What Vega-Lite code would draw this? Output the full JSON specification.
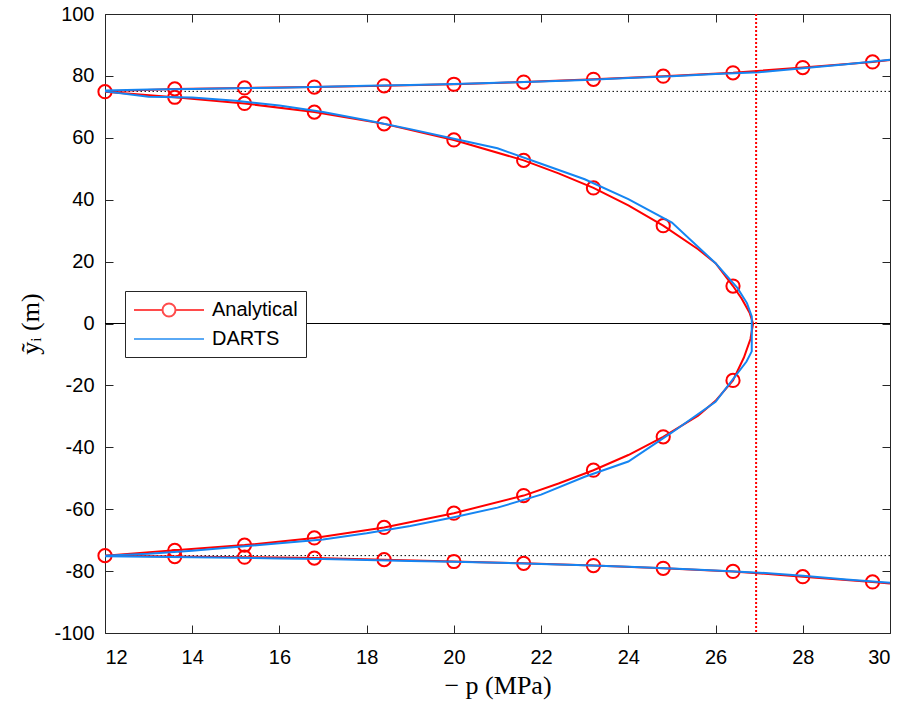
{
  "$schema": "https://vega.github.io/schema/vega-lite/v6.json",
  "width": 785,
  "height": 619,
  "autosize": "none",
  "padding": {"left": 105, "top": 14, "right": 26, "bottom": 73},
  "background": "white",
  "config": {
    "view": {"stroke": null},
    "axis": {
      "grid": false,
      "domainColor": "#262626",
      "tickColor": "#262626",
      "labelColor": "#000000",
      "labelFont": "Liberation Sans",
      "labelFontSize": 20,
      "tickSize": -8,
      "tickWidth": 1,
      "domainWidth": 1,
      "titleFont": "Liberation Serif",
      "titleFontSize": 26,
      "titleFontWeight": "normal",
      "titleColor": "#000000"
    },
    "legend": {
      "orient": "none",
      "legendX": 20,
      "legendY": 277,
      "fillColor": "white",
      "strokeColor": "#262626",
      "padding": 8,
      "labelFont": "Liberation Sans",
      "labelFontSize": 20,
      "labelColor": "#000000",
      "symbolSize": 400,
      "symbolStrokeWidth": 2,
      "labelOffset": 57,
      "rowPadding": 7
    }
  },
  "datasets": {
    "lines": [
      {"series": "Analytical", "branch": "up", "i": 1, "x": 12, "y": 75.0},
      {"series": "Analytical", "branch": "up", "i": 2, "x": 13.6, "y": 75.8},
      {"series": "Analytical", "branch": "up", "i": 3, "x": 15.2, "y": 76.1},
      {"series": "Analytical", "branch": "up", "i": 4, "x": 16.8, "y": 76.4},
      {"series": "Analytical", "branch": "up", "i": 5, "x": 18.4, "y": 76.8},
      {"series": "Analytical", "branch": "up", "i": 6, "x": 20, "y": 77.3},
      {"series": "Analytical", "branch": "up", "i": 7, "x": 21.6, "y": 78.0},
      {"series": "Analytical", "branch": "up", "i": 8, "x": 23.2, "y": 78.9},
      {"series": "Analytical", "branch": "up", "i": 9, "x": 24.8, "y": 79.9},
      {"series": "Analytical", "branch": "up", "i": 10, "x": 26.4, "y": 81.0},
      {"series": "Analytical", "branch": "up", "i": 11, "x": 28, "y": 82.7},
      {"series": "Analytical", "branch": "up", "i": 12, "x": 29.6, "y": 84.5},
      {"series": "Analytical", "branch": "up", "i": 13, "x": 30, "y": 85.1},
      {"series": "Analytical", "branch": "curve", "i": 1, "x": 12, "y": 74.9},
      {"series": "Analytical", "branch": "curve", "i": 2, "x": 13.6, "y": 73.1},
      {"series": "Analytical", "branch": "curve", "i": 3, "x": 15.2, "y": 71.1},
      {"series": "Analytical", "branch": "curve", "i": 4, "x": 16.8, "y": 68.3},
      {"series": "Analytical", "branch": "curve", "i": 5, "x": 18.4, "y": 64.5},
      {"series": "Analytical", "branch": "curve", "i": 6, "x": 20, "y": 59.3},
      {"series": "Analytical", "branch": "curve", "i": 7, "x": 21.6, "y": 52.7},
      {"series": "Analytical", "branch": "curve", "i": 8, "x": 22.4, "y": 48.5},
      {"series": "Analytical", "branch": "curve", "i": 9, "x": 23.2, "y": 43.8},
      {"series": "Analytical", "branch": "curve", "i": 10, "x": 24, "y": 38.2},
      {"series": "Analytical", "branch": "curve", "i": 11, "x": 24.8, "y": 31.6},
      {"series": "Analytical", "branch": "curve", "i": 12, "x": 25.6, "y": 24.0},
      {"series": "Analytical", "branch": "curve", "i": 13, "x": 26, "y": 19.5},
      {"series": "Analytical", "branch": "curve", "i": 14, "x": 26.4, "y": 12.1},
      {"series": "Analytical", "branch": "curve", "i": 15, "x": 26.6, "y": 8.0},
      {"series": "Analytical", "branch": "curve", "i": 16, "x": 26.78, "y": 3.5},
      {"series": "Analytical", "branch": "curve", "i": 17, "x": 26.86, "y": 0},
      {"series": "Analytical", "branch": "curve", "i": 18, "x": 26.8, "y": -5.0},
      {"series": "Analytical", "branch": "curve", "i": 19, "x": 26.65, "y": -11.0},
      {"series": "Analytical", "branch": "curve", "i": 20, "x": 26.4, "y": -18.4},
      {"series": "Analytical", "branch": "curve", "i": 21, "x": 26, "y": -25.0},
      {"series": "Analytical", "branch": "curve", "i": 22, "x": 25.6, "y": -29.8},
      {"series": "Analytical", "branch": "curve", "i": 23, "x": 24.8, "y": -36.6},
      {"series": "Analytical", "branch": "curve", "i": 24, "x": 24, "y": -42.5},
      {"series": "Analytical", "branch": "curve", "i": 25, "x": 23.2, "y": -47.4},
      {"series": "Analytical", "branch": "curve", "i": 26, "x": 22.4, "y": -51.7},
      {"series": "Analytical", "branch": "curve", "i": 27, "x": 21.6, "y": -55.6},
      {"series": "Analytical", "branch": "curve", "i": 28, "x": 20, "y": -61.3},
      {"series": "Analytical", "branch": "curve", "i": 29, "x": 18.4, "y": -65.9},
      {"series": "Analytical", "branch": "curve", "i": 30, "x": 16.8, "y": -69.3},
      {"series": "Analytical", "branch": "curve", "i": 31, "x": 15.2, "y": -71.6},
      {"series": "Analytical", "branch": "curve", "i": 32, "x": 13.6, "y": -73.3},
      {"series": "Analytical", "branch": "curve", "i": 33, "x": 12, "y": -75.0},
      {"series": "Analytical", "branch": "low", "i": 1, "x": 12, "y": -75.0},
      {"series": "Analytical", "branch": "low", "i": 2, "x": 13.6, "y": -75.3},
      {"series": "Analytical", "branch": "low", "i": 3, "x": 15.2, "y": -75.5},
      {"series": "Analytical", "branch": "low", "i": 4, "x": 16.8, "y": -75.8},
      {"series": "Analytical", "branch": "low", "i": 5, "x": 18.4, "y": -76.3},
      {"series": "Analytical", "branch": "low", "i": 6, "x": 20, "y": -76.9},
      {"series": "Analytical", "branch": "low", "i": 7, "x": 21.6, "y": -77.5},
      {"series": "Analytical", "branch": "low", "i": 8, "x": 23.2, "y": -78.2},
      {"series": "Analytical", "branch": "low", "i": 9, "x": 24.8, "y": -79.1},
      {"series": "Analytical", "branch": "low", "i": 10, "x": 26.4, "y": -80.1},
      {"series": "Analytical", "branch": "low", "i": 11, "x": 28, "y": -81.8},
      {"series": "Analytical", "branch": "low", "i": 12, "x": 29.6, "y": -83.5},
      {"series": "Analytical", "branch": "low", "i": 13, "x": 30, "y": -84.0},
      {"series": "DARTS", "branch": "up", "i": 1, "x": 12, "y": 75.3},
      {"series": "DARTS", "branch": "up", "i": 2, "x": 13, "y": 75.6},
      {"series": "DARTS", "branch": "up", "i": 3, "x": 14, "y": 75.8},
      {"series": "DARTS", "branch": "up", "i": 4, "x": 15, "y": 76.0},
      {"series": "DARTS", "branch": "up", "i": 5, "x": 16, "y": 76.2},
      {"series": "DARTS", "branch": "up", "i": 6, "x": 17, "y": 76.5},
      {"series": "DARTS", "branch": "up", "i": 7, "x": 18, "y": 76.8},
      {"series": "DARTS", "branch": "up", "i": 8, "x": 19, "y": 77.1},
      {"series": "DARTS", "branch": "up", "i": 9, "x": 20, "y": 77.4},
      {"series": "DARTS", "branch": "up", "i": 10, "x": 21, "y": 77.8},
      {"series": "DARTS", "branch": "up", "i": 11, "x": 22, "y": 78.2},
      {"series": "DARTS", "branch": "up", "i": 12, "x": 23, "y": 78.7},
      {"series": "DARTS", "branch": "up", "i": 13, "x": 24, "y": 79.3},
      {"series": "DARTS", "branch": "up", "i": 14, "x": 25, "y": 79.9},
      {"series": "DARTS", "branch": "up", "i": 15, "x": 26, "y": 80.6},
      {"series": "DARTS", "branch": "up", "i": 16, "x": 27, "y": 81.2},
      {"series": "DARTS", "branch": "up", "i": 17, "x": 28, "y": 82.5},
      {"series": "DARTS", "branch": "up", "i": 18, "x": 29, "y": 83.8},
      {"series": "DARTS", "branch": "up", "i": 19, "x": 30, "y": 85.2},
      {"series": "DARTS", "branch": "curve", "i": 1, "x": 12, "y": 75.0},
      {"series": "DARTS", "branch": "curve", "i": 2, "x": 13, "y": 73.3},
      {"series": "DARTS", "branch": "curve", "i": 3, "x": 14, "y": 73.0},
      {"series": "DARTS", "branch": "curve", "i": 4, "x": 15, "y": 72.0},
      {"series": "DARTS", "branch": "curve", "i": 5, "x": 16, "y": 70.4},
      {"series": "DARTS", "branch": "curve", "i": 6, "x": 17, "y": 68.3},
      {"series": "DARTS", "branch": "curve", "i": 7, "x": 18, "y": 65.7},
      {"series": "DARTS", "branch": "curve", "i": 8, "x": 19, "y": 62.8},
      {"series": "DARTS", "branch": "curve", "i": 9, "x": 20, "y": 59.7},
      {"series": "DARTS", "branch": "curve", "i": 10, "x": 21, "y": 56.6},
      {"series": "DARTS", "branch": "curve", "i": 11, "x": 22, "y": 51.6},
      {"series": "DARTS", "branch": "curve", "i": 12, "x": 23, "y": 46.6},
      {"series": "DARTS", "branch": "curve", "i": 13, "x": 24, "y": 40.2},
      {"series": "DARTS", "branch": "curve", "i": 14, "x": 25, "y": 32.6},
      {"series": "DARTS", "branch": "curve", "i": 15, "x": 26, "y": 19.5},
      {"series": "DARTS", "branch": "curve", "i": 16, "x": 26.5, "y": 11.5},
      {"series": "DARTS", "branch": "curve", "i": 17, "x": 26.72, "y": 6.6},
      {"series": "DARTS", "branch": "curve", "i": 18, "x": 26.83, "y": 2.3},
      {"series": "DARTS", "branch": "curve", "i": 19, "x": 26.83, "y": -9.0},
      {"series": "DARTS", "branch": "curve", "i": 20, "x": 26.71, "y": -12.3},
      {"series": "DARTS", "branch": "curve", "i": 21, "x": 26, "y": -25.3},
      {"series": "DARTS", "branch": "curve", "i": 22, "x": 25, "y": -35.2},
      {"series": "DARTS", "branch": "curve", "i": 23, "x": 24, "y": -44.6},
      {"series": "DARTS", "branch": "curve", "i": 24, "x": 23, "y": -49.5},
      {"series": "DARTS", "branch": "curve", "i": 25, "x": 22, "y": -55.3},
      {"series": "DARTS", "branch": "curve", "i": 26, "x": 21, "y": -59.5},
      {"series": "DARTS", "branch": "curve", "i": 27, "x": 20, "y": -62.6},
      {"series": "DARTS", "branch": "curve", "i": 28, "x": 19, "y": -65.4},
      {"series": "DARTS", "branch": "curve", "i": 29, "x": 18, "y": -67.8},
      {"series": "DARTS", "branch": "curve", "i": 30, "x": 17, "y": -69.8},
      {"series": "DARTS", "branch": "curve", "i": 31, "x": 16, "y": -71.0},
      {"series": "DARTS", "branch": "curve", "i": 32, "x": 15, "y": -72.2},
      {"series": "DARTS", "branch": "curve", "i": 33, "x": 14, "y": -73.4},
      {"series": "DARTS", "branch": "curve", "i": 34, "x": 13, "y": -74.4},
      {"series": "DARTS", "branch": "curve", "i": 35, "x": 12, "y": -75.0},
      {"series": "DARTS", "branch": "low", "i": 1, "x": 12, "y": -75.2},
      {"series": "DARTS", "branch": "low", "i": 2, "x": 13, "y": -75.4},
      {"series": "DARTS", "branch": "low", "i": 3, "x": 14, "y": -75.5},
      {"series": "DARTS", "branch": "low", "i": 4, "x": 15, "y": -75.7},
      {"series": "DARTS", "branch": "low", "i": 5, "x": 16, "y": -75.9},
      {"series": "DARTS", "branch": "low", "i": 6, "x": 17, "y": -76.1},
      {"series": "DARTS", "branch": "low", "i": 7, "x": 18, "y": -76.4},
      {"series": "DARTS", "branch": "low", "i": 8, "x": 19, "y": -76.7},
      {"series": "DARTS", "branch": "low", "i": 9, "x": 20, "y": -77.0},
      {"series": "DARTS", "branch": "low", "i": 10, "x": 21, "y": -77.3},
      {"series": "DARTS", "branch": "low", "i": 11, "x": 22, "y": -77.7},
      {"series": "DARTS", "branch": "low", "i": 12, "x": 23, "y": -78.1},
      {"series": "DARTS", "branch": "low", "i": 13, "x": 24, "y": -78.6},
      {"series": "DARTS", "branch": "low", "i": 14, "x": 25, "y": -79.2},
      {"series": "DARTS", "branch": "low", "i": 15, "x": 26, "y": -79.8},
      {"series": "DARTS", "branch": "low", "i": 16, "x": 27, "y": -80.5},
      {"series": "DARTS", "branch": "low", "i": 17, "x": 28, "y": -81.5},
      {"series": "DARTS", "branch": "low", "i": 18, "x": 29, "y": -82.7},
      {"series": "DARTS", "branch": "low", "i": 19, "x": 30, "y": -83.8}
    ],
    "markers": [
      {"x": 12, "y": 74.9}, {"x": 13.6, "y": 75.8}, {"x": 15.2, "y": 76.1}, {"x": 16.8, "y": 76.4},
      {"x": 18.4, "y": 76.8}, {"x": 20, "y": 77.3}, {"x": 21.6, "y": 78.0}, {"x": 23.2, "y": 78.9},
      {"x": 24.8, "y": 79.9}, {"x": 26.4, "y": 81.0}, {"x": 28, "y": 82.7}, {"x": 29.6, "y": 84.5},
      {"x": 13.6, "y": 73.1}, {"x": 15.2, "y": 71.1}, {"x": 16.8, "y": 68.3}, {"x": 18.4, "y": 64.5},
      {"x": 20, "y": 59.3}, {"x": 21.6, "y": 52.7}, {"x": 23.2, "y": 43.8}, {"x": 24.8, "y": 31.6},
      {"x": 26.4, "y": 12.1}, {"x": 26.4, "y": -18.4}, {"x": 24.8, "y": -36.6}, {"x": 23.2, "y": -47.4},
      {"x": 21.6, "y": -55.6}, {"x": 20, "y": -61.3}, {"x": 18.4, "y": -65.9}, {"x": 16.8, "y": -69.3},
      {"x": 15.2, "y": -71.6}, {"x": 13.6, "y": -73.3}, {"x": 12, "y": -75.0},
      {"x": 13.6, "y": -75.3}, {"x": 15.2, "y": -75.5}, {"x": 16.8, "y": -75.8}, {"x": 18.4, "y": -76.3},
      {"x": 20, "y": -76.9}, {"x": 21.6, "y": -77.5}, {"x": 23.2, "y": -78.2}, {"x": 24.8, "y": -79.1},
      {"x": 26.4, "y": -80.1}, {"x": 28, "y": -81.8}, {"x": 29.6, "y": -83.5}
    ],
    "hlines": [{"y": 75}, {"y": -75}],
    "zero": [{"y": 0}],
    "vline": [{"x": 26.93}],
    "legendrows": [{"series": "Analytical"}, {"series": "DARTS"}]
  },
  "resolve": {"axis": {"x": "independent", "y": "independent"}},
  "layer": [
    {
      "data": {"name": "zero"},
      "mark": {"type": "rule", "color": "#000000", "strokeWidth": 1},
      "encoding": {
        "y": {"field": "y", "type": "quantitative", "scale": {"domain": [-100, 100]}, "axis": null}
      }
    },
    {
      "data": {"name": "hlines"},
      "mark": {"type": "rule", "color": "#000000", "strokeWidth": 1, "strokeDash": [1.5, 2.5]},
      "encoding": {
        "y": {"field": "y", "type": "quantitative", "axis": null}
      }
    },
    {
      "data": {"name": "lines"},
      "transform": [{"filter": "datum.series == 'Analytical'"}],
      "mark": {"type": "line", "color": "#ff0000", "strokeWidth": 2},
      "encoding": {
        "x": {"field": "x", "type": "quantitative", "scale": {"domain": [12, 30], "nice": false},
          "axis": {"orient": "bottom", "values": [12, 14, 16, 18, 20, 22, 24, 26, 28, 30], "labelPadding": 22, "title": "− p  (MPa)", "titlePadding": 5}},
        "y": {"field": "y", "type": "quantitative", "scale": {"domain": [-100, 100], "nice": false},
          "axis": {"orient": "left", "values": [-100, -80, -60, -40, -20, 0, 20, 40, 60, 80, 100], "labelPadding": 19, "labelExpr": "replace(datum.label, '−', '-')", "title": "ỹᵢ  (m)", "titlePadding": 10}},
        "detail": {"field": "branch"},
        "order": {"field": "i", "type": "quantitative"}
      }
    },
    {
      "data": {"name": "markers"},
      "mark": {"type": "point", "shape": "circle", "filled": false, "color": "#ff0000", "strokeWidth": 2, "size": 175, "opacity": 1},
      "encoding": {
        "x": {"field": "x", "type": "quantitative",
          "axis": {"orient": "top", "values": [12, 14, 16, 18, 20, 22, 24, 26, 28, 30], "labels": false, "title": null}},
        "y": {"field": "y", "type": "quantitative",
          "axis": {"orient": "right", "values": [-100, -80, -60, -40, -20, 0, 20, 40, 60, 80, 100], "labels": false, "title": null}}
      }
    },
    {
      "data": {"name": "lines"},
      "transform": [{"filter": "datum.series == 'DARTS'"}],
      "mark": {"type": "line", "color": "#1585f2", "strokeWidth": 2},
      "encoding": {
        "x": {"field": "x", "type": "quantitative", "axis": null},
        "y": {"field": "y", "type": "quantitative", "axis": null},
        "detail": {"field": "branch"},
        "order": {"field": "i", "type": "quantitative"}
      }
    },
    {
      "data": {"name": "vline"},
      "mark": {"type": "rule", "color": "#ff0000", "strokeWidth": 2, "strokeDash": [2, 2]},
      "encoding": {
        "x": {"field": "x", "type": "quantitative", "axis": null}
      }
    },
    {
      "data": {"name": "legendrows"},
      "transform": [{"filter": "datum.series == 'none'"}],
      "mark": {"type": "point", "filled": false, "strokeWidth": 2},
      "encoding": {
        "color": {"field": "series", "type": "nominal",
          "scale": {"domain": ["Analytical", "DARTS"], "range": ["#ff0000", "#1585f2"]},
          "legend": {"title": null}},
        "shape": {"field": "series", "type": "nominal",
          "scale": {"domain": ["Analytical", "DARTS"], "range": [
            "M-1,0H1.85M3.15,0H6M3.15,0A0.65,0.65,0,1,1,1.85,0A0.65,0.65,0,1,1,3.15,0",
            "M-1,0H6"]},
          "legend": {"title": null}}
      }
    }
  ]
}
